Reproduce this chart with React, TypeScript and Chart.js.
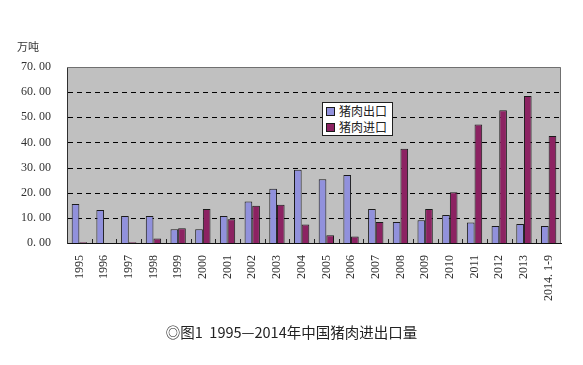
import React, { useEffect, useRef } from "react";
import { Chart, registerables } from "chart.js";

Chart.register(...registerables);

const categories = [
  "1995", "1996", "1997", "1998", "1999", "2000", "2001", "2002", "2003", "2004",
  "2005", "2006", "2007", "2008", "2009", "2010", "2011", "2012", "2013", "2014. 1-9",
];
const exportValues = [15.5, 13.1, 10.7, 10.7, 5.5, 5.5, 10.7, 16.5, 21.6, 29.1, 25.4, 27.0, 13.5, 8.4, 9.0, 11.1, 8.2, 6.8, 7.6, 6.8];
const importValues = [0.3, 0.0, 0.3, 1.8, 5.9, 13.5, 9.4, 14.8, 15.2, 7.4, 3.1, 2.6, 8.4, 37.5, 13.5, 20.2, 47.1, 52.8, 58.5, 42.6];
const seriesNames = ["猪肉出口", "猪肉进口"];
const yTicks = [0, 10, 20, 30, 40, 50, 60, 70];
const unitLabel = "万吨";
const caption = "◎图1  1995—2014年中国猪肉进出口量";

const EXPORT_COLOR = "#9191dc";
const IMPORT_COLOR = "#8c2262";

const plotDecor = {
  id: "plotDecor",
  beforeDraw(chart: any) {
    const { ctx, chartArea } = chart;
    ctx.save();
    ctx.fillStyle = "#c0c0c0";
    ctx.fillRect(chartArea.left, chartArea.top, chartArea.right - chartArea.left, chartArea.bottom - chartArea.top);
    ctx.restore();
  },
  beforeDatasetsDraw(chart: any) {
    const { ctx, chartArea } = chart;
    const ys = chart.scales.y;
    ctx.save();
    ctx.strokeStyle = "#000000";
    ctx.lineWidth = 1;
    ctx.setLineDash([5, 4]);
    ctx.beginPath();
    yTicks.forEach((v) => {
      if (v === 0 || v === 70) return;
      const y = Math.round(ys.getPixelForValue(v)) + 0.5;
      ctx.moveTo(chartArea.left + 1, y);
      ctx.lineTo(chartArea.right - 1, y);
    });
    ctx.stroke();
    ctx.restore();
  },
  afterDatasetsDraw(chart: any) {
    const { ctx, chartArea } = chart;
    const xs = chart.scales.x;
    ctx.save();
    ctx.strokeStyle = "#707070";
    ctx.lineWidth = 1;
    ctx.beginPath();
    ctx.moveTo(chartArea.left, chartArea.top + 0.5);
    ctx.lineTo(chartArea.right - 0.5, chartArea.top + 0.5);
    ctx.lineTo(chartArea.right - 0.5, chartArea.bottom);
    ctx.stroke();
    ctx.strokeStyle = "#202020";
    ctx.beginPath();
    const n = categories.length;
    for (let i = 1; i < n; i++) {
      let x = (xs.getPixelForValue(i - 1) + xs.getPixelForValue(i)) / 2;
      x = Math.round(x) + 0.5;
      ctx.moveTo(x, chartArea.bottom);
      ctx.lineTo(x, chartArea.bottom - 4);
    }
    ctx.stroke();
    ctx.restore();
  },
};

export default function App() {
  const ref = useRef<HTMLCanvasElement | null>(null);
  useEffect(() => {
    if (!ref.current) return;
    const chart = new Chart(ref.current, {
      type: "bar",
      data: {
        labels: categories,
        datasets: [
          {
            label: seriesNames[0],
            data: exportValues,
            backgroundColor: EXPORT_COLOR,
            borderColor: "#1a1a1a",
            borderWidth: 1,
            categoryPercentage: 0.62,
            barPercentage: 1,
          },
          {
            label: seriesNames[1],
            data: importValues,
            backgroundColor: IMPORT_COLOR,
            borderColor: "#1a1a1a",
            borderWidth: 1,
            categoryPercentage: 0.62,
            barPercentage: 1,
          },
        ],
      },
      options: {
        responsive: false,
        animation: false,
        devicePixelRatio: 1,
        layout: { padding: { left: 0, top: 67, right: 22, bottom: 0 } },
        plugins: {
          legend: { display: false },
          tooltip: { enabled: false },
          title: { display: false },
        },
        scales: {
          x: {
            offset: true,
            grid: { display: false, drawTicks: false },
            border: { display: true, color: "#101010", width: 1 },
            ticks: {
              minRotation: 90,
              maxRotation: 90,
              autoSkip: false,
              padding: 12,
              color: "#303030",
              font: { family: "'Liberation Serif', 'DejaVu Serif', serif", size: 12 },
            },
            afterFit: (s: any) => {
              s.height = 122;
            },
          },
          y: {
            min: 0,
            max: 70,
            afterBuildTicks: (s: any) => {
              s.ticks = yTicks.map((v) => ({ value: v }));
            },
            grid: { display: false, drawTicks: false },
            border: { display: true, color: "#303030", width: 1 },
            ticks: {
              padding: 16,
              color: "#303030",
              font: { family: "'Liberation Serif', 'DejaVu Serif', serif", size: 12 },
              callback: (v: any) => Number(v).toFixed(2).replace(".", ". "),
            },
            afterFit: (s: any) => {
              s.width = 67;
            },
          },
        },
      },
      plugins: [plotDecor],
    });
    return () => chart.destroy();
  }, []);

  const legendRow = (color: string, text: string) => (
    <div style={{ display: "flex", alignItems: "center", height: 16 }}>
      <span
        style={{
          display: "inline-block",
          width: 7,
          height: 7,
          background: color,
          border: "1px solid #1a1a1a",
          marginRight: 4,
        }}
      />
      <span>{text}</span>
    </div>
  );

  return (
    <div style={{ position: "absolute", left: 0, top: 0, width: 583, height: 365, background: "#fff" }}>
      <canvas ref={ref} width={583} height={365} style={{ position: "absolute", left: 0, top: 0, width: 583, height: 365 }} />
      <div
        style={{
          position: "absolute",
          left: 17,
          top: 38,
          fontSize: 11,
          color: "#333",
          fontFamily: "'Noto Sans CJK SC', serif",
        }}
      >
        {unitLabel}
      </div>
      <div
        style={{
          position: "absolute",
          left: 322,
          top: 102,
          width: 71,
          height: 34,
          background: "#fff",
          border: "1px solid #202020",
          boxSizing: "border-box",
          padding: "0 0 0 3px",
          fontSize: 12,
          lineHeight: "16px",
          color: "#222",
          fontFamily: "'Noto Sans CJK SC', serif",
        }}
      >
        {legendRow(EXPORT_COLOR, seriesNames[0])}
        {legendRow(IMPORT_COLOR, seriesNames[1])}
      </div>
      <div
        style={{
          position: "absolute",
          left: 0,
          width: 583,
          top: 321,
          textAlign: "center",
          fontSize: 14.5,
          color: "#222",
          fontFamily: "'Noto Sans CJK SC', 'Noto Sans', sans-serif",
          whiteSpace: "pre",
        }}
      >
        {caption}
      </div>
    </div>
  );
}
